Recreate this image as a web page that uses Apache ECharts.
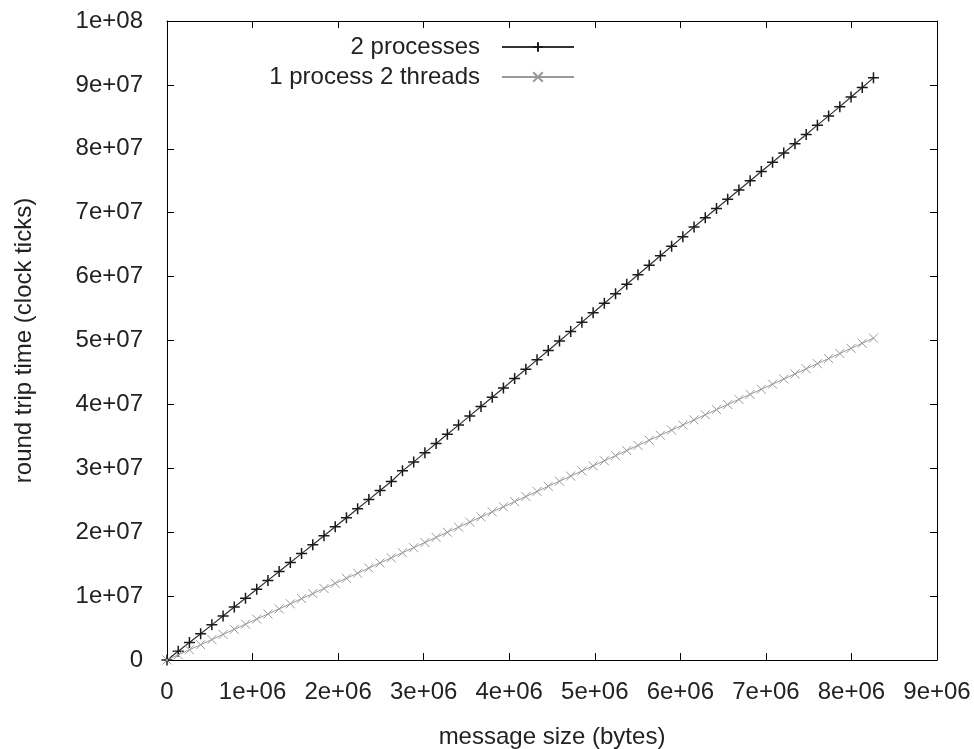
<!DOCTYPE html>
<html><head><meta charset="utf-8">
<script src="https://cdn.jsdelivr.net/npm/echarts@6/dist/echarts.min.js"></script>
<style>html,body{margin:0;padding:0;background:#fff}#c{width:974px;height:749px}</style>
</head><body><div id="c"></div>
<script>
const seriesNames = ['2 processes', '1 process 2 threads'];
const messageSizes = [0, 131072, 262144, 393216, 524288, 655360, 786432, 917504, 1048576, 1179648, 1310720, 1441792, 1572864, 1703936, 1835008, 1966080, 2097152, 2228224, 2359296, 2490368, 2621440, 2752512, 2883584, 3014656, 3145728, 3276800, 3407872, 3538944, 3670016, 3801088, 3932160, 4063232, 4194304, 4325376, 4456448, 4587520, 4718592, 4849664, 4980736, 5111808, 5242880, 5373952, 5505024, 5636096, 5767168, 5898240, 6029312, 6160384, 6291456, 6422528, 6553600, 6684672, 6815744, 6946816, 7077888, 7208960, 7340032, 7471104, 7602176, 7733248, 7864320, 7995392, 8126464, 8257536];
const twoProcesses = [0, 1.36e6, 2.74e6, 4.12e6, 5.50e6, 6.89e6, 8.28e6, 9.67e6, 11.07e6, 12.46e6, 13.85e6, 15.25e6, 16.65e6, 18.05e6, 19.45e6, 20.86e6, 22.26e6, 23.68e6, 25.10e6, 26.52e6, 27.93e6, 29.60e6, 31.00e6, 32.45e6, 33.88e6, 35.32e6, 36.76e6, 38.20e6, 39.66e6, 41.12e6, 42.58e6, 44.04e6, 45.50e6, 46.97e6, 48.44e6, 49.92e6, 51.39e6, 52.87e6, 54.34e6, 55.83e6, 57.30e6, 58.80e6, 60.28e6, 61.77e6, 63.26e6, 64.76e6, 66.25e6, 67.76e6, 69.20e6, 70.65e6, 72.10e6, 73.55e6, 75.00e6, 76.45e6, 77.90e6, 79.35e6, 80.80e6, 82.25e6, 83.70e6, 85.15e6, 86.60e6, 88.10e6, 89.60e6, 91.10e6];
const oneProcessTwoThreads = [0, 0.80e6, 1.60e6, 2.40e6, 3.20e6, 4.00e6, 4.80e6, 5.60e6, 6.40e6, 7.20e6, 8.00e6, 8.80e6, 9.60e6, 10.39e6, 11.19e6, 11.99e6, 12.79e6, 13.59e6, 14.39e6, 15.19e6, 15.99e6, 16.79e6, 17.59e6, 18.39e6, 19.19e6, 19.99e6, 20.79e6, 21.59e6, 22.39e6, 23.19e6, 23.98e6, 24.78e6, 25.58e6, 26.38e6, 27.18e6, 27.98e6, 28.78e6, 29.58e6, 30.38e6, 31.18e6, 31.98e6, 32.78e6, 33.58e6, 34.38e6, 35.18e6, 35.98e6, 36.78e6, 37.58e6, 38.38e6, 39.18e6, 39.98e6, 40.78e6, 41.57e6, 42.37e6, 43.17e6, 43.97e6, 44.77e6, 45.57e6, 46.37e6, 47.17e6, 47.97e6, 48.77e6, 49.57e6, 50.37e6];
const xTickLabels = ['0', '1e+06', '2e+06', '3e+06', '4e+06', '5e+06', '6e+06', '7e+06', '8e+06', '9e+06'];
const yTickLabels = ['0', '1e+07', '2e+07', '3e+07', '4e+07', '5e+07', '6e+07', '7e+07', '8e+07', '9e+07', '1e+08'];

const FONT = 'Liberation Sans';
const TXT = '#222';
const plusPath = 'path://M0,5L10,5M5,0L5,10';
const crossPath = 'path://M0,0L10,10M0,10L10,0';

function zip(xs, ys) { return xs.map((x, i) => [x, ys[i]]); }

function axisBase(extra) {
  return Object.assign({
    type: 'value',
    axisLine: { show: true, onZero: false, lineStyle: { color: '#000', width: 1 } },
    axisTick: { show: true, inside: true, length: 7, lineStyle: { color: '#000' } },
    splitLine: { show: false }
  }, extra);
}

const chart = echarts.init(document.getElementById('c'), null, { renderer: 'canvas' });
chart.setOption({
  animation: false,
  backgroundColor: '#fff',
  textStyle: { fontFamily: FONT },
  grid: { left: 167, right: 37, top: 21, bottom: 89, containLabel: false, outerBoundsMode: 'none' },
  legend: {
    orient: 'vertical', align: 'right', right: 394, top: 30,
    itemWidth: 72, itemHeight: 12, itemGap: 6,
    data: seriesNames,
    textStyle: { fontFamily: FONT, fontSize: 24, color: TXT, padding: [0, 17, 0, 0] }
  },
  xAxis: [
    axisBase({
      min: 0, max: 9e6, interval: 1e6,
      name: 'message size (bytes)', nameLocation: 'middle', nameGap: 65,
      nameTextStyle: { fontFamily: FONT, fontSize: 24, color: TXT },
      axisLabel: { margin: 20, fontFamily: FONT, fontSize: 24, color: TXT,
        formatter: v => xTickLabels[Math.round(v / 1e6)] }
    }),
    axisBase({
      position: 'top', min: 0, max: 9e6, interval: 1e6, axisLabel: { show: false }
    })
  ],
  yAxis: [
    axisBase({
      position: 'left', min: 0, max: 1e8, interval: 1e7,
      name: 'round trip time (clock ticks)', nameLocation: 'middle', nameGap: 131,
      nameTextStyle: { fontFamily: FONT, fontSize: 24, color: TXT },
      axisLabel: { margin: 24, fontFamily: FONT, fontSize: 24, color: TXT,
        formatter: v => yTickLabels[Math.round(v / 1e7)] }
    }),
    axisBase({
      position: 'right', min: 0, max: 1e8, interval: 1e7, axisLabel: { show: false }
    })
  ],
  series: [
    {
      name: seriesNames[0], type: 'line', xAxisIndex: 0, yAxisIndex: 0,
      data: zip(messageSizes, twoProcesses),
      symbol: plusPath, symbolSize: 11, showAllSymbol: true,
      lineStyle: { color: '#333', width: 1.2 },
      itemStyle: { color: 'none', borderColor: '#1a1a1a', borderWidth: 1.5 },
      emphasis: { disabled: true }
    },
    {
      name: seriesNames[1], type: 'line', xAxisIndex: 0, yAxisIndex: 0,
      data: zip(messageSizes, oneProcessTwoThreads),
      symbol: crossPath, symbolSize: 9, showAllSymbol: true,
      lineStyle: { color: '#999', width: 1 },
      itemStyle: { color: 'none', borderColor: '#999', borderWidth: 1 },
      emphasis: { disabled: true }
    }
  ]
});
</script></body></html>
